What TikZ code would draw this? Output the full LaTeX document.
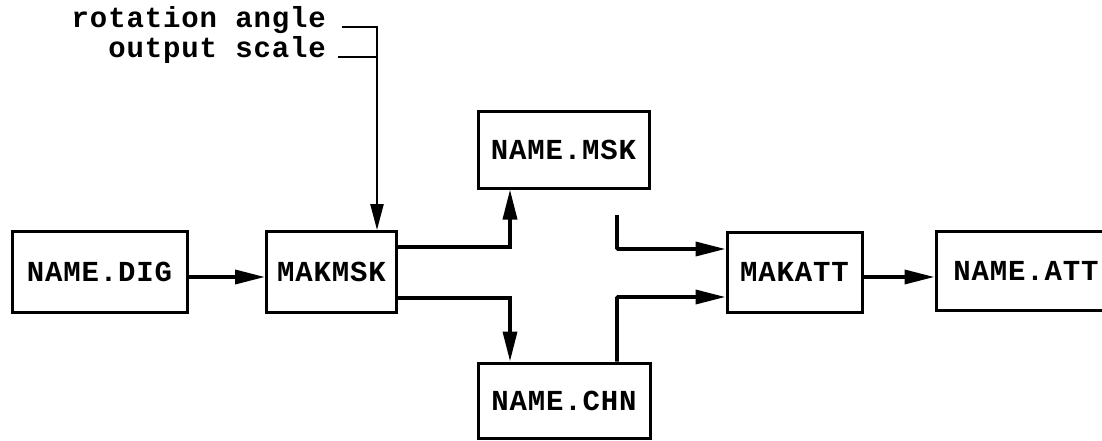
\documentclass[tikz,border=0pt]{standalone}
\usepackage{fontspec}
\newfontfamily\typewriter{Liberation Mono}[LetterSpace=3]
\usetikzlibrary{arrows.meta}

\tikzset{
  box/.style={draw, line width=3pt, rectangle, inner sep=0pt,
              font=\typewriter\bfseries\fontsize{29}{29}\selectfont},
  lbl/.style={inner sep=0pt, font=\typewriter\bfseries\fontsize{29}{29}\selectfont},
  conn/.style={line width=3.6pt, -{Triangle[length=30pt,width=14pt]}},
  feed/.style={line width=2.4pt},
}

\begin{document}
\begin{tikzpicture}[x=1pt,y=1pt]
  \useasboundingbox (0,0) rectangle (1102,440);
  \clip (0,0) rectangle (1102,440);

  % program and file boxes
  \node[box, minimum width=175pt, minimum height=81pt] (dig) at (99.5,168) {NAME.DIG};
  \node[box, minimum width=130pt, minimum height=81pt] (mak) at (331.5,168) {MAKMSK};
  \node[box, minimum width=171pt, minimum height=76pt] (msk) at (563.5,290) {NAME.MSK};
  \node[box, minimum width=172pt, minimum height=75pt] (chn) at (564,39.5) {NAME.CHN};
  \node[box, minimum width=135pt, minimum height=80pt] (att) at (794.5,168) {MAKATT};
  \node[box, minimum width=180pt, minimum height=79pt] (out) at (1026,169.5) {NAME.ATT};

  % parameters fed into MAKMSK
  \node[lbl, anchor=base east] (rot) at (326,412) {rotation angle};
  \node[lbl, anchor=base east] (scl) at (326,382) {output scale};
  \draw[feed, -{Triangle[length=26pt,width=13pt]}]
    ([xshift=16pt,yshift=1pt]rot.base east) -| ([xshift=45.5pt]mak.north);
  \draw[feed] ([xshift=12pt,yshift=1pt]scl.base east) -- ++(39,0);

  % main data flow
  \draw[conn] ([yshift=-5pt]dig.east) -- ([yshift=-5pt]mak.west);
  \draw[conn] ([yshift=25pt]mak.east) -| ([xshift=-53.5pt]msk.south);
  \draw[conn] ([yshift=-26pt]mak.east) -| ([xshift=-54pt]chn.north);

  \coordinate (mskfeed) at (617,225);
  \draw[conn, rounded corners=1pt] (mskfeed) |- ([yshift=23pt]att.west);
  \draw[conn, rounded corners=1pt] ([xshift=53pt]chn.north) |- ([yshift=-25pt]att.west);

  \draw[conn] ([yshift=-5pt]att.east) -- (out.west |- 0,163);
\end{tikzpicture}
\end{document}
